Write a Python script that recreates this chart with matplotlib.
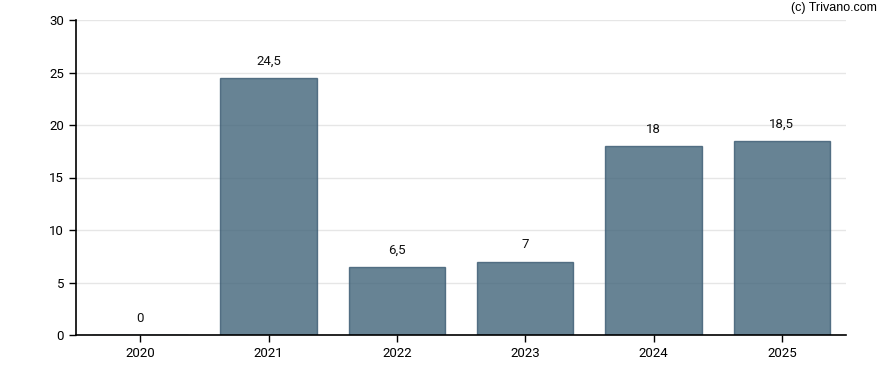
import matplotlib.pyplot as plt

years = ["2020", "2021", "2022", "2023", "2024", "2025"]
values = [0, 24.5, 6.5, 7, 18, 18.5]
labels = ["0", "24,5", "6,5", "7", "18", "18,5"]

plt.rcParams["font.family"] = ["Roboto", "DejaVu Sans"]

fig = plt.figure(figsize=(8.88, 3.70), dpi=100)
ax = fig.add_axes([76 / 888, 35 / 370, 770 / 888, 315 / 370])

x = range(len(years))
ax.bar(x, values, width=0.75, color="#41647a", alpha=0.8,
       edgecolor="#3a5a72", linewidth=1, zorder=2)

for i, (v, lab) in enumerate(zip(values, labels)):
    ax.annotate(lab, (i, v), xytext=(0, 7.5), textcoords="offset points",
                ha="center", va="bottom", fontsize=9.5, color="#111111")

ax.set_xlim(-0.5, len(years) - 0.5)
ax.set_ylim(0, 30)
ax.set_yticks([0, 5, 10, 15, 20, 25, 30])
ax.set_xticks(list(x))
ax.set_xticklabels(years)
ax.yaxis.grid(True, color="#e6e6e6", linewidth=1, zorder=0)
ax.set_axisbelow(True)

for s in ["top", "right"]:
    ax.spines[s].set_visible(False)
ax.spines["left"].set_linewidth(1.2)
ax.spines["bottom"].set_linewidth(1.2)
ax.tick_params(axis="both", labelsize=9.5, length=5, width=1, colors="black")

fig.text(877 / 888, 1 - 8 / 370, "(c) Trivano.com", ha="right", va="center",
         fontsize=9, family=["Liberation Sans", "DejaVu Sans"])

fig.savefig("out.png", dpi=100)
